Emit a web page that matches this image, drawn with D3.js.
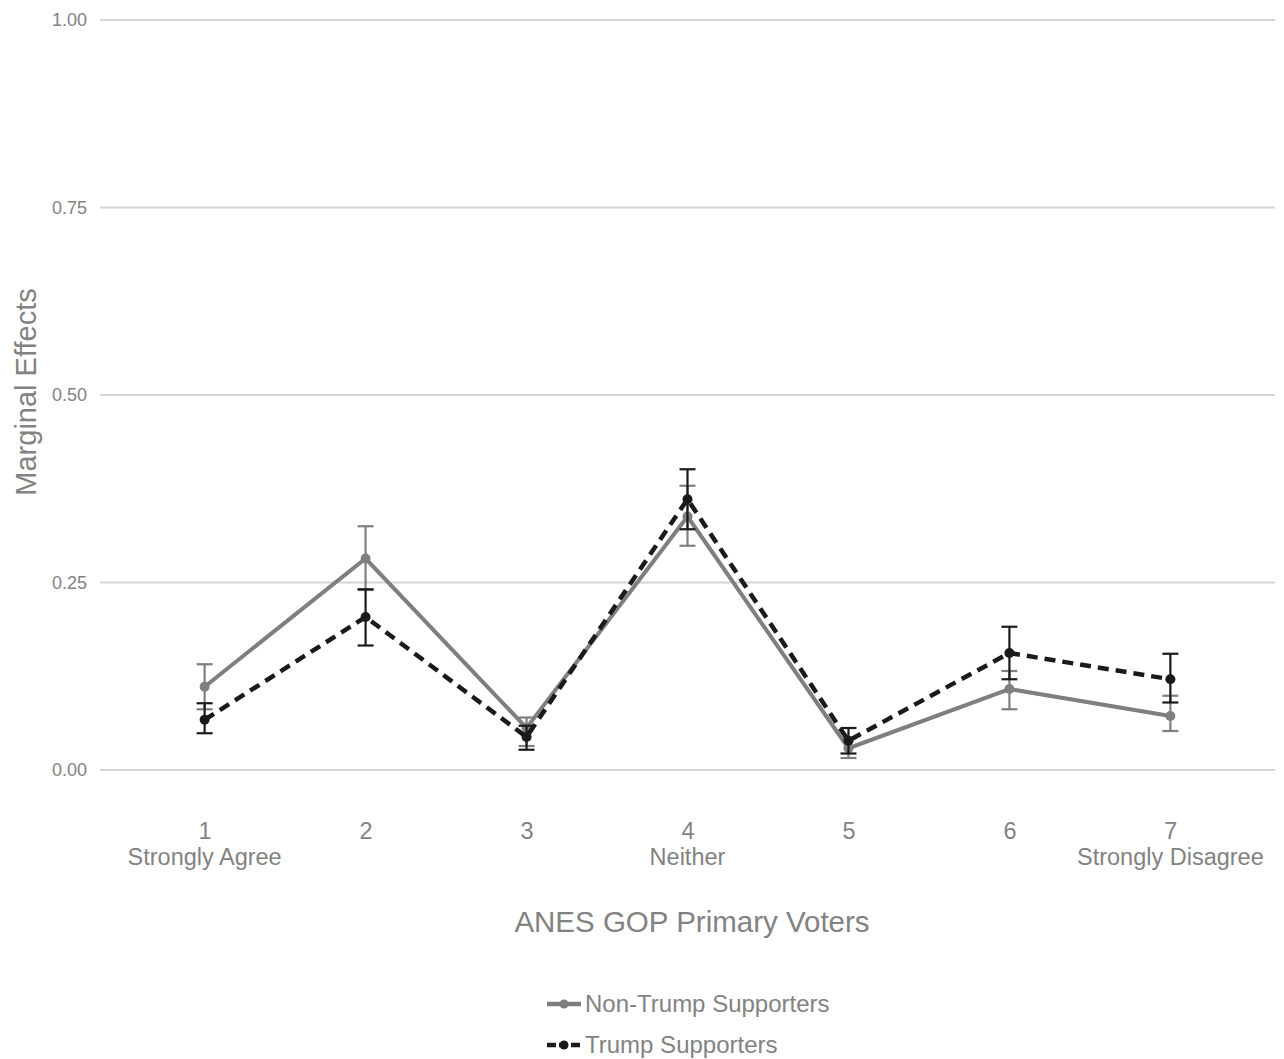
<!DOCTYPE html>
<html><head><meta charset="utf-8">
<script src="https://cdn.jsdelivr.net/npm/d3@7"></script>
<style>body{margin:0;background:#fff;} text{font-family:"Liberation Sans",Arial,sans-serif;}</style>
</head><body>
<svg id="chart" width="1284" height="1059"></svg>
<script>
const categories = [1,2,3,4,5,6,7];
const catLabels = ["Strongly Agree","","","Neither","","","Strongly Disagree"];
const yTicks = [0,0.25,0.5,0.75,1.0];
const seriesNames = ["Non-Trump Supporters","Trump Supporters"];
const nonTrump = [0.111,0.282,0.056,0.338,0.029,0.108,0.072];
const nonTrumpLo = [0.081,0.240,0.032,0.299,0.016,0.081,0.052];
const nonTrumpHi = [0.141,0.325,0.070,0.379,0.042,0.132,0.099];
const trump = [0.067,0.204,0.044,0.361,0.039,0.156,0.121];
const trumpLo = [0.049,0.166,0.027,0.321,0.022,0.121,0.090];
const trumpHi = [0.089,0.241,0.059,0.401,0.056,0.191,0.155];

const svg = d3.select("#chart");
const x = d3.scaleLinear().domain([0.35,7.65]).range([100,1275]);
const y = d3.scaleLinear().domain([0,1]).range([770,20]);
const grey = "#7f7f7f", dark = "#1a1a1a", txt = "#828282";

svg.append("g").selectAll("line").data(yTicks).join("line")
  .attr("x1",100).attr("x2",1275).attr("y1",d=>y(d)).attr("y2",d=>y(d))
  .attr("stroke","#d4d4d4").attr("stroke-width",2);
const yAxis = d3.axisLeft(y).tickValues(yTicks).tickFormat(d3.format(".2f")).tickSize(0).tickPadding(0);
const ya = svg.append("g").attr("transform","translate(87,0)").call(yAxis);
ya.select(".domain").remove();
ya.selectAll("text").attr("fill",txt).attr("font-size",18);

const xAxis = d3.axisBottom(x).tickValues(categories).tickFormat(d=>d).tickSize(0).tickPadding(0);
const xa = svg.append("g").call(xAxis);
xa.select(".domain").remove();
xa.selectAll("text").attr("fill",txt).attr("font-size",23.5).attr("dy",null).attr("y",839);
svg.append("g").selectAll("text").data(categories).join("text")
  .attr("x",d=>x(d)).attr("y",865).attr("text-anchor","middle")
  .attr("fill",txt).attr("font-size",23.5).text((d,i)=>catLabels[i]);

svg.append("text").attr("x",692).attr("y",932).attr("text-anchor","middle")
  .attr("fill",txt).attr("font-size",29.5).text("ANES GOP Primary Voters");
svg.append("text").attr("transform","translate(36,392) rotate(-90)").attr("text-anchor","middle")
  .attr("fill",txt).attr("font-size",29).text("Marginal Effects");

const series = [
  {name:seriesNames[0], v:nonTrump, lo:nonTrumpLo, hi:nonTrumpHi, color:grey, dash:null, w:4},
  {name:seriesNames[1], v:trump, lo:trumpLo, hi:trumpHi, color:dark, dash:"11,7", w:4.5}
];
const line = d3.line().x((d,i)=>x(categories[i])).y(d=>y(d));
series.forEach(s=>{
  const g = svg.append("g");
  g.append("path").datum(s.v).attr("d",line).attr("fill","none")
    .attr("stroke",s.color).attr("stroke-width",s.w).attr("stroke-dasharray",s.dash);
  const eb = g.selectAll("g.eb").data(categories).join("g");
  eb.append("line").attr("x1",d=>x(d)).attr("x2",d=>x(d))
    .attr("y1",(d,i)=>y(s.lo[i])).attr("y2",(d,i)=>y(s.hi[i])).attr("stroke",s.color).attr("stroke-width",2.2);
  eb.append("line").attr("x1",d=>x(d)-8).attr("x2",d=>x(d)+8)
    .attr("y1",(d,i)=>y(s.lo[i])).attr("y2",(d,i)=>y(s.lo[i])).attr("stroke",s.color).attr("stroke-width",2.2);
  eb.append("line").attr("x1",d=>x(d)-8).attr("x2",d=>x(d)+8)
    .attr("y1",(d,i)=>y(s.hi[i])).attr("y2",(d,i)=>y(s.hi[i])).attr("stroke",s.color).attr("stroke-width",2.2);
  g.selectAll("circle").data(s.v).join("circle")
    .attr("cx",(d,i)=>x(categories[i])).attr("cy",d=>y(d)).attr("r",5).attr("fill",s.color);
});

const leg = svg.append("g");
series.forEach((s,i)=>{
  const ly = 1004 + i*41;
  leg.append("line").attr("x1",547).attr("x2",581).attr("y1",ly).attr("y2",ly)
    .attr("stroke",s.color).attr("stroke-width",4.5).attr("stroke-dasharray",s.dash?"9,3":null);
  leg.append("circle").attr("cx",564).attr("cy",ly).attr("r",4.5).attr("fill",s.color);
  leg.append("text").attr("x",585).attr("y",ly+8).attr("fill",txt).attr("font-size",24).text(s.name);
});
</script>
</body></html>
